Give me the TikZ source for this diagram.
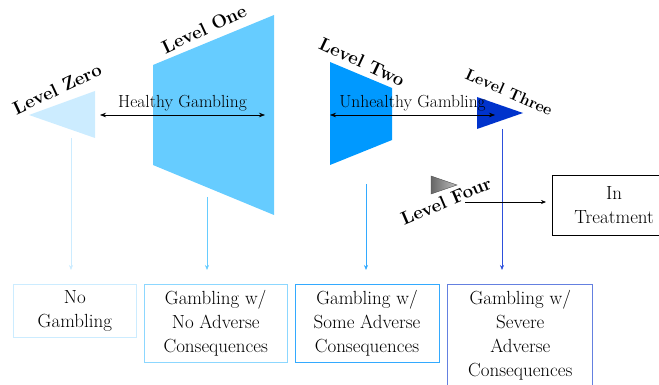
\documentclass[tikz,border=0pt]{standalone}
\usepackage{fontspec}
\usepackage{xcolor}
\usepackage{tikz}
\usetikzlibrary{arrows.meta, positioning}
\definecolor{zeroblue}{RGB}{204, 236, 255}
\definecolor{oneblue}{RGB}{102, 204, 255}
\definecolor{twoblue}{RGB}{0, 153, 255}
\definecolor{threeblue}{RGB}{0, 51, 204}
\definecolor{twoline}{RGB}{51, 170, 255}
\definecolor{threeline}{RGB}{45, 80, 220}
\definecolor{boxtwo}{RGB}{140, 215, 255}
\definecolor{boxfour}{RGB}{100, 128, 224}

\begin{document}
\begin{tikzpicture}[
    x=1pt, y=-1pt,
    level/.style={font=\fontsize{18.5}{20}\selectfont\bfseries, inner sep=0pt},
    span/.style={{Stealth[length=6pt, width=4.5pt]}-{Stealth[length=6pt, width=4.5pt]}, semithick, black},
    spanlabel/.style={midway, above, font=\fontsize{17.5}{18}\selectfont},
    drop/.style={-{Stealth[length=5pt, width=4pt]}, semithick, shorten >=14pt},
    outcome/.style={draw, thick, align=center, inner xsep=2pt, inner ysep=6pt, font=\fontsize{19}{24}\selectfont}
]
    \clip (0,0) rectangle (659,385);

    % Levels - shapes
    \fill[zeroblue] (29,115) -- (95,91) -- (95,138) -- cycle;
    \fill[oneblue] (153,65) -- (274,15) -- (274,215) -- (153,165) -- cycle;
    \fill[twoblue] (330,62) -- (392,88) -- (392,140) -- (330,165) -- cycle;
    \fill[threeblue] (477,97) -- (523,113) -- (477,129) -- cycle;
    \shade[left color=black!60, right color=black!25, draw=black!70] (431,176) -- (457,185) -- (431,194) -- cycle;

    % Levels - labels
    \node[level, rotate=25] (zero) at (57,89) {Level Zero};
    \node[level, rotate=25] (one) at (204,29) {Level One};
    \node[level, rotate=-25] (two) at (362,62) {Level Two};
    \node[level, rotate=-24, font=\fontsize{16}{18}\selectfont\bfseries] (three) at (509,92) {Level Three};
    \node[level, rotate=23] (four) at (446,201) {Level Four};

    % Coordinates for the connectors
    \coordinate (zero-foot) at (71,138);
    \coordinate (one-foot) at (207,197);
    \coordinate (two-foot) at (366,184);
    \coordinate (three-foot) at (502,129);
    \coordinate (healthy-a) at (100,115);
    \coordinate (healthy-b) at (265,115);
    \coordinate (unhealthy-a) at (330,115);
    \coordinate (unhealthy-b) at (495,115);
    \coordinate (four-out) at (465,202);

    % Nodes - outcomes
    \node[outcome, draw=zeroblue, minimum width=123pt, anchor=north west] (nogamb) at (13,284) {No\\Gambling};
    \node[outcome, draw=boxtwo, minimum width=143pt, right=7pt of nogamb.north east, anchor=north west] (noadverse) {Gambling w/\\No Adverse\\Consequences};
    \node[outcome, draw=twoline, minimum width=144pt, right=7pt of noadverse.north east, anchor=north west] (someadverse) {Gambling w/\\Some Adverse\\Consequences};
    \node[outcome, draw=boxfour, minimum width=145pt, right=8pt of someadverse.north east, anchor=north west] (severe) {Gambling w/\\Severe\\Adverse\\Consequences};
    \node[outcome, draw=black, thin, minimum width=124pt, minimum height=60pt, anchor=north west] (treat) at (552,175) {In\\Treatment};

    % Arrows
    \draw[span] (healthy-a) -- (healthy-b) node[spanlabel] {Healthy Gambling};
    \draw[span] (unhealthy-a) -- (unhealthy-b) node[spanlabel] {Unhealthy Gambling};
    \draw[drop, zeroblue] (zero-foot) -- (zero-foot |- nogamb.north);
    \draw[drop, oneblue] (one-foot) -- (one-foot |- noadverse.north);
    \draw[drop, twoline] (two-foot) -- (two-foot |- someadverse.north);
    \draw[drop, threeline] (three-foot) -- (three-foot |- severe.north);
    \draw[-{Stealth[length=5pt, width=4pt]}, semithick, shorten >=6pt] (four-out) -- (four-out -| treat.west);
\end{tikzpicture}
\end{document}
